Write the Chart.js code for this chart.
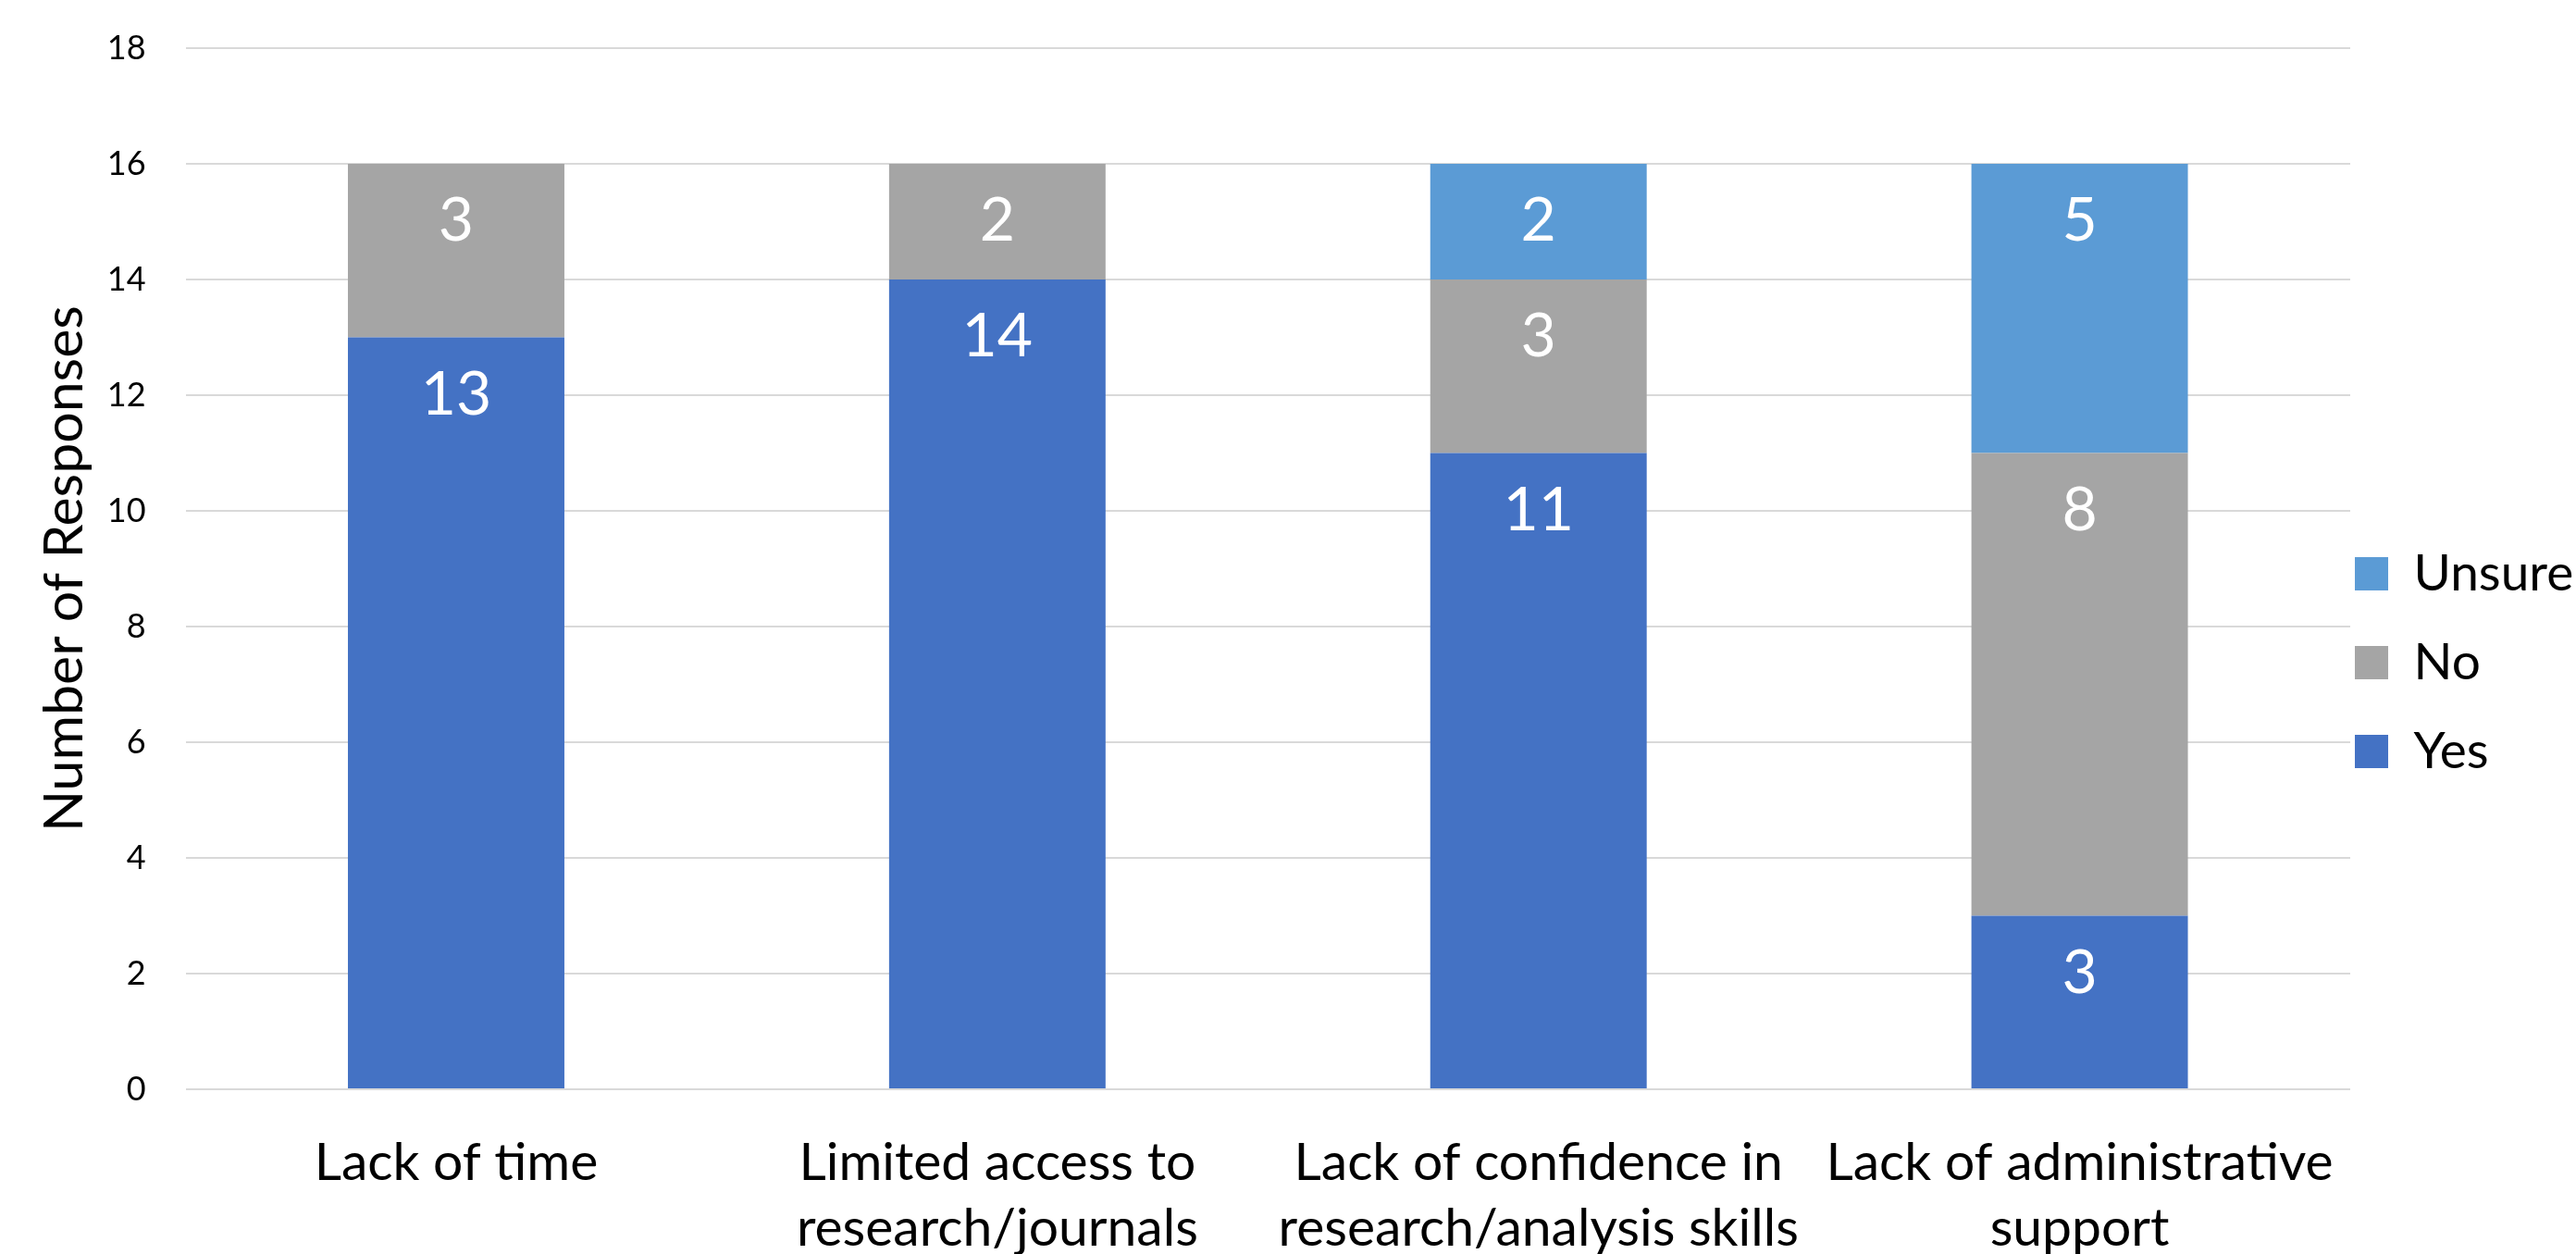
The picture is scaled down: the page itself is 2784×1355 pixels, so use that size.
<!DOCTYPE html>
<html>
<head>
<meta charset="utf-8">
<script src="https://cdn.jsdelivr.net/npm/chart.js@4.4.1/dist/chart.umd.min.js"></script>
<style>
    html, body { margin: 0; padding: 0; background: #fff; }
    #wrap { width: 2784px; height: 1355px; overflow: hidden; }
</style>
</head>
<body>
<div id="wrap"><canvas id="myChart" width="2784" height="1355"></canvas></div>
<script>
// data
var categories = [
    'Lack of time',
    ['Limited access to', 'research/journals'],
    ['Lack of confidence in', 'research/analysis skills'],
    ['Lack of administrative', 'support']
];
var yesValues = [13, 14, 11, 3];
var noValues = [3, 2, 3, 8];
var unsureValues = [null, null, 2, 5];
var yTicks = [0, 2, 4, 6, 8, 10, 12, 14, 16, 18];

var FONT = 'Lato';
var CLEAR = 'rgba(0,0,0,0)';


//////////////////////////////////////
//            Plugins               //
//////////////////////////////////////

// white value labels, "inside end" like the office chart
const valueLabels = {
    id: 'valueLabels',
    afterDatasetsDraw(chart) {
        const ctx = chart.ctx;
        ctx.save();
        ctx.font = '66px ' + FONT;
        ctx.fillStyle = '#ffffff';
        ctx.textAlign = 'center';
        ctx.textBaseline = 'middle';
        chart.data.datasets.forEach((ds, i) => {
            chart.getDatasetMeta(i).data.forEach((bar, j) => {
                const v = ds.data[j];
                if (!v) return;
                ctx.fillText(String(v), bar.x, bar.y + 62);
            });
        });
        ctx.restore();
    }
};

// labels.padding is both the row gap and the left inset, so move the box a bit
// (right edge stays put, the legend clips to its own box)
const legendNudge = {
    id: 'legendNudge',
    afterLayout(chart) {
        const lg = chart.legend;
        lg.left -= 36;
        lg.top += 3; lg.bottom += 3;
    }
};


//////////////////////////////////////
//             Chart                //
//////////////////////////////////////

var chart = null;

function initChart() {
    const ctx = document.getElementById('myChart').getContext('2d');
    chart = new Chart(ctx, {
        type: 'bar',
        data: {
            labels: categories,
            datasets: [
                { label: 'Yes', data: yesValues, backgroundColor: '#4472C4' },
                { label: 'No', data: noValues, backgroundColor: '#A5A5A5' },
                { label: 'Unsure', data: unsureValues, backgroundColor: '#5B9BD5' }
            ]
        },
        options: {
            responsive: false,
            animation: false,
            devicePixelRatio: 1,
            barPercentage: 0.4,
            categoryPercentage: 1.0,
            layout: { padding: { top: 52, bottom: -19, left: 0, right: 0 } },
            scales: {
                x: {
                    stacked: true,
                    // invisible tick marks just to push the labels down
                    grid: { drawOnChartArea: false, drawTicks: true, tickLength: 34, tickColor: CLEAR, color: CLEAR },
                    border: { display: false },
                    ticks: {
                        color: '#000',
                        padding: 10.5,
                        maxRotation: 0,
                        autoSkip: false,
                        font: { family: FONT, size: 57, lineHeight: 1.245 }
                    }
                },
                y: {
                    stacked: true,
                    min: 0,
                    max: 18,
                    afterBuildTicks: (axis) => { axis.ticks = yTicks.map(v => ({ value: v })); },
                    grid: { color: '#D9D9D9', lineWidth: 2, drawTicks: true, tickLength: 33, tickColor: CLEAR },
                    border: { display: false },
                    ticks: {
                        color: '#000',
                        padding: 10,
                        font: { family: FONT, size: 36 }
                    },
                    title: {
                        display: true,
                        text: 'Number of Responses',
                        color: '#000',
                        padding: { top: 35, bottom: 0 },
                        font: { family: FONT, size: 59 }
                    }
                }
            },
            plugins: {
                legend: {
                    position: 'right',
                    reverse: true,
                    maxWidth: 244,
                    labels: {
                        color: '#000',
                        boxWidth: 36,
                        boxHeight: 36,
                        padding: 41,
                        font: { family: FONT, size: 55 }
                    }
                },
                tooltip: { enabled: false }
            }
        },
        plugins: [valueLabels, legendNudge]
    });
}

window.onload = initChart;
</script>
</body>
</html>
